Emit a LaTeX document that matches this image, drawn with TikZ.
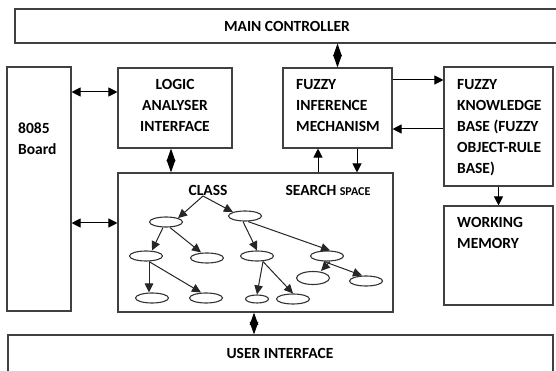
\documentclass[tikz,border=0pt]{standalone}
\usepackage{fontspec}
\setmainfont{Carlito}
\usetikzlibrary{arrows.meta,shapes.geometric}
\begin{document}
\begin{tikzpicture}[x=1pt,y=-1pt,
  box/.style={draw=black!75,line width=1.1pt,inner sep=0pt},
  lbl/.style={font=\bfseries\fontsize{15.5}{21}\selectfont,inner sep=0pt,text=black},
  ell/.style={draw=black!80,ellipse,line width=1.1pt,inner sep=0pt,minimum width=33pt,minimum height=10pt},
  dia/.style={line width=1pt,{Triangle[length=12.5pt,width=8.5pt]}-{Triangle[length=12.5pt,width=8.5pt]}},
  dbl/.style={line width=1pt,{Triangle[length=9pt,width=9pt]}-{Triangle[length=9pt,width=9pt]}},
  arr/.style={line width=1pt,-{Triangle[length=9pt,width=9pt]}},
  tarr/.style={line width=1pt,black!85,-{Triangle[length=9pt,width=8.5pt]}}]
\useasboundingbox (0,0) rectangle (556,371);
\clip (0,0) rectangle (556,371);
\fill[white] (0,0) rectangle (556,371);
% boxes
\node[box,minimum width=547pt,minimum height=34pt] (mc) at (288.5,26) {};
\node[box,minimum width=64pt,minimum height=244pt] (b8085) at (39,189) {};
\node[box,minimum width=114pt,minimum height=80pt] (la) at (175,108) {};
\node[box,minimum width=109pt,minimum height=80pt] (fim) at (337.5,108) {};
\node[box,minimum width=109pt,minimum height=119pt] (fkb) at (498.5,126.5) {};
\node[box,minimum width=109pt,minimum height=99pt] (wm) at (498.5,255.5) {};
\node[box,minimum width=275pt,minimum height=139pt] (ss) at (255.5,242.5) {};
\node[box,minimum width=545pt,minimum height=50pt] (ui) at (280.5,360) {};
% labels
\node[lbl] (mct) at (287,26) {MAIN CONTROLLER};
\node[lbl,anchor=north west,align=left] (b8085t) at (18,123) {8085\\Board};
\node[lbl,anchor=north,align=center] (lat) at (175,79) {LOGIC\\ANALYSER\\INTERFACE};
\node[lbl,anchor=north west,align=left] (fimt) at (296,79) {FUZZY\\INFERENCE\\MECHANISM};
\node[lbl,anchor=north west,align=left] (fkbt) at (457,79) {FUZZY\\KNOWLEDGE\\BASE (FUZZY\\OBJECT-RULE\\BASE)};
\node[lbl,anchor=north west,align=left] (wmt) at (457,217) {WORKING\\MEMORY};
\node[lbl] (uit) at (280,353) {USER INTERFACE};
\node[lbl] (cls) at (208,190) {CLASS};
\node[lbl] (sst) at (328,190) {SEARCH {\fontsize{12}{12}\selectfont SPACE}};
% helper coordinates
\coordinate (y92) at (0,92);
\coordinate (y223) at (0,223);
\coordinate (y80) at (0,80);
\coordinate (y129) at (0,129);
\coordinate (x318) at (318,0);
\coordinate (x357) at (357,0);
\coordinate (x171) at (171,0);
\coordinate (x254) at (254,0);
% connectors
\draw[dia] (mc.south -| fim.north) -- (fim.north);
\draw[dia] (la.south -| x171) -- (ss.north -| x171);
\draw[dia] (ss.south -| x254) -- (ui.north -| x254);
\draw[dbl] (b8085.east |- y92) -- (la.west |- y92);
\draw[dbl] (b8085.east |- y223) -- (ss.west |- y223);
\draw[arr] (fim.east |- y80) -- (fkb.west |- y80);
\draw[arr] (fkb.west |- y129) -- (fim.east |- y129);
\draw[arr] (ss.north -| x318) -- (fim.south -| x318);
\draw[arr] (fim.south -| x357) -- (ss.north -| x357);
\draw[arr] (fkb.south) -- (wm.north);
% tree
\node[ell] (ea) at (166,222) {};
\node[ell] (eb) at (245,216) {};
\node[ell] (ec) at (146,256) {};
\node[ell] (ed) at (207,258) {};
\node[ell] (ee) at (257,256) {};
\node[ell] (ef) at (327,256) {};
\node[ell,minimum height=13pt] (eg) at (313,278) {};
\node[ell] (eh) at (366,281) {};
\node[ell] (ei) at (152,298) {};
\node[ell] (ej) at (206,298) {};
\node[ell,minimum width=23pt,minimum height=8pt] (ek) at (257,299) {};
\node[ell] (el) at (293,299) {};
\coordinate (apex) at (203,196);
\draw[tarr] (apex) -- (ea.north east);
\draw[tarr] (apex) -- (eb.north west);
\draw[tarr] ([xshift=-3pt]ea.south) -- ([xshift=6pt]ec.north);
\draw[tarr] ([xshift=4pt]ea.south) -- ([xshift=-6pt]ed.north);
\draw[tarr] ([xshift=-2pt]eb.south) -- (ee.north);
\draw[tarr] ([xshift=3pt]eb.south) -- ([xshift=3pt]ef.north);
\draw[tarr] ([xshift=3pt]ec.south) -- ([xshift=-3pt]ei.north);
\draw[tarr] ([xshift=3pt]ec.south) -- ([xshift=-5pt]ej.north);
\draw[tarr] ([xshift=6pt]ee.south) -- (ek.north);
\draw[tarr] ([xshift=6pt]ee.south) -- (el.north);
\draw[tarr] ([xshift=3pt]ef.south) -- ([xshift=8pt]eg.north);
\draw[tarr] ([xshift=-3pt]ef.south) -- ([xshift=-4pt]eh.north);
\end{tikzpicture}
\end{document}
